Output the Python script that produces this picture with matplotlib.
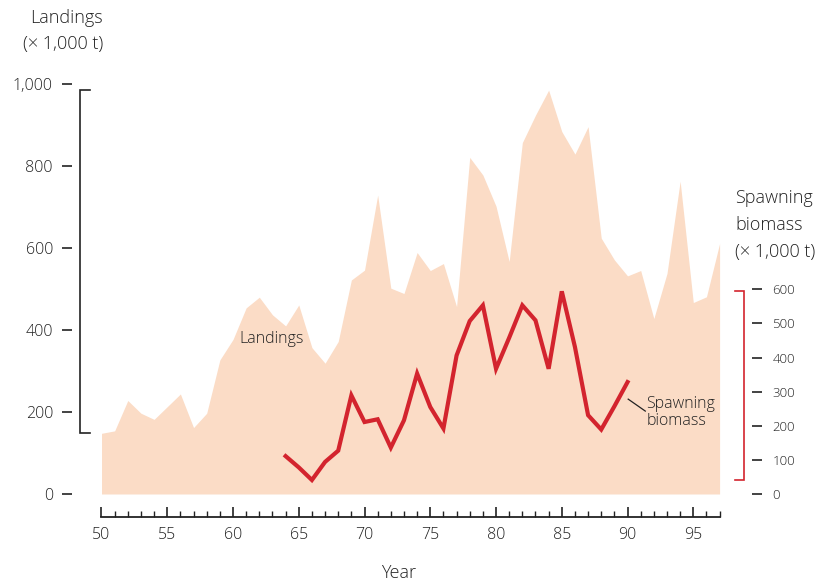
import matplotlib
matplotlib.use("Agg")
import matplotlib.pyplot as plt
import matplotlib.transforms as mtransforms
from matplotlib.ticker import FuncFormatter, FixedLocator

plt.rcParams['font.family'] = ['Open Sans', 'DejaVu Sans']
plt.rcParams['font.weight'] = 300

# ---- data ----
landing_years = list(range(1950, 1998))
landings = [148, 154, 228, 197, 182, 213, 244, 162, 197, 327,
            377, 454, 480, 437, 410, 461, 357, 319, 372, 522,
            546, 729, 502, 489, 589, 545, 562, 457, 821, 778,
            702, 567, 857, 924, 985, 884, 829, 896, 624, 571,
            532, 545, 428, 538, 763, 467, 481, 611]
biomass_years = list(range(1964, 1991))
biomass = [111, 78, 41, 94, 127, 289, 211, 219, 136, 216,
           353, 255, 192, 406, 507, 553, 367, 458, 553, 509,
           367, 594, 431, 231, 189, 257, 328]
x_major = list(range(1950, 1996, 5))
x_minor = list(range(1950, 1998))
left_ticks = [0, 200, 400, 600, 800, 1000]
right_ticks = [0, 100, 200, 300, 400, 500, 600]

FILL = '#FBDCC6'
RED = '#D3242E'
DARK = '#222222'

W, H = 819, 584
fig = plt.figure(figsize=(W / 100, H / 100), dpi=100)

# axes placement in pixels
L, R, B, T = 72, 752, 584 - 517.3, 564
ax = fig.add_axes([L / W, B / H, (R - L) / W, (T - B) / H])

px_per_year = 13.151
x0 = 1950 - (101.5 - L) / px_per_year
x1 = 1950 + (R - 101.5) / px_per_year
ax.set_xlim(x0, x1)
py_left = 0.41
zero_px = 90
ax.set_ylim((B - zero_px) / py_left, (T - zero_px) / py_left)

ax.fill_between(landing_years, landings, 0, color=FILL, lw=0, zorder=1)

for s in ['top', 'right', 'left']:
    ax.spines[s].set_visible(False)
ax.spines['bottom'].set_bounds(min(x_minor), max(x_minor))
ax.spines['bottom'].set_linewidth(1.3)
ax.spines['bottom'].set_color(DARK)

ax.xaxis.set_major_locator(FixedLocator(x_major))
ax.xaxis.set_minor_locator(FixedLocator(x_minor))
ax.xaxis.set_major_formatter(FuncFormatter(lambda v, p: f"{int(v) % 100:02d}"))
ax.tick_params(axis='x', which='major', direction='in', length=7.2, width=1.2,
               color=DARK, labelsize=11.5, labelcolor=DARK, pad=7)
ax.tick_params(axis='x', which='minor', direction='in', length=4.3, width=1.0,
               color=DARK)

ax.yaxis.set_major_locator(FixedLocator(left_ticks))
ax.yaxis.set_major_formatter(FuncFormatter(lambda v, p: f"{int(v):,}"))
ax.tick_params(axis='y', direction='out', length=7.2, width=1.2, color=DARK,
               labelsize=11.5, labelcolor=DARK, pad=6.5)

# left bracket (data range)
tl = mtransforms.blended_transform_factory(ax.transAxes, ax.transData)
bx = (80 - L) / (R - L)
sx = (90 - L) / (R - L)
ax.plot([sx, bx, bx, sx], [max(landings), max(landings), min(landings), min(landings)],
        transform=tl, color=DARK, lw=1.2, clip_on=False, solid_joinstyle='miter')

ax.text(1962.9, 378, 'Landings', ha='center', va='center', fontsize=11.5,
        color=DARK, zorder=3)

# right axis
ax2 = ax.twinx()
py_right = 0.3412
ax2.set_ylim((B - zero_px) / py_right, (T - zero_px) / py_right)
for s in ['top', 'right', 'left', 'bottom']:
    ax2.spines[s].set_visible(False)
ax2.yaxis.set_major_locator(FixedLocator(right_ticks))
ax2.yaxis.set_major_formatter(FuncFormatter(lambda v, p: f"{int(v)}"))
ax2.tick_params(axis='y', direction='out', length=7.2, width=1.2, color=DARK,
                labelsize=9.5, labelcolor=DARK, pad=7.5)

ax2.plot(biomass_years, biomass, color=RED, lw=3, solid_joinstyle='miter', zorder=3)

tr = mtransforms.blended_transform_factory(ax2.transAxes, ax2.transData)
rbx = (744 - L) / (R - L)
rsx = (735 - L) / (R - L)
ax2.plot([rsx, rbx, rbx, rsx], [max(biomass), max(biomass), min(biomass), min(biomass)],
         transform=tr, color=RED, lw=1.2, clip_on=False, solid_joinstyle='miter')

# in-plot biomass label with leader
ax2.plot([1990.05, 1991.35], [278, 243], color=DARK, lw=0.9)
ax2.text(1991.45, 239, 'Spawning\nbiomass', ha='left', va='center', fontsize=11.5,
         color=DARK, linespacing=1.15)

# titles
fs_t = 13
fig.text(103 / W, 1 - 18 / H, 'Landings', ha='right', va='center', fontsize=fs_t, color=DARK)
fig.text(103 / W, 1 - 44 / H, '(× 1,000 t)', ha='right', va='center', fontsize=fs_t, color=DARK)
fig.text(735 / W, 1 - 198 / H, 'Spawning', ha='left', va='center', fontsize=fs_t, color=DARK)
fig.text(735 / W, 1 - 225 / H, 'biomass', ha='left', va='center', fontsize=fs_t, color=DARK)
fig.text(735 / W, 1 - 252 / H, '(× 1,000 t)', ha='left', va='center', fontsize=fs_t, color=DARK)
fig.text(399 / W, 1 - 573 / H, 'Year', ha='center', va='center', fontsize=fs_t, color=DARK)

fig.savefig('out.png', dpi=100)
